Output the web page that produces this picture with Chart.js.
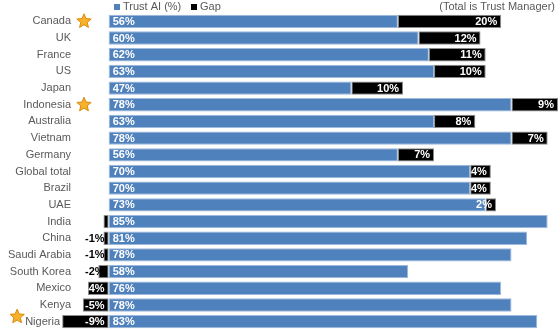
<!DOCTYPE html>
<html>
<head>
<meta charset="utf-8">
<script src="https://cdn.jsdelivr.net/npm/chart.js@4"></script>
<style>
  html, body { margin: 0; padding: 0; background: #fff; }
  #wrap { width: 560px; height: 330px; position: relative; }
</style>
</head>
<body>
<div id="wrap"><canvas id="gapChart"></canvas></div>
<script>
var countries = ['Canada', 'UK', 'France', 'US', 'Japan', 'Indonesia', 'Australia', 'Vietnam', 'Germany',
  'Global total', 'Brazil', 'UAE', 'India', 'China', 'Saudi Arabia', 'South Korea', 'Mexico', 'Kenya', 'Nigeria'];
var trustAI = [56, 60, 62, 63, 47, 78, 63, 78, 56, 70, 70, 73, 85, 81, 78, 58, 76, 78, 83];
var gap = [20, 12, 11, 10, 10, 9, 8, 7, 7, 4, 4, 2, -1, -1, -1, -2, -4, -5, -9];
var gapLabels = ['20%', '12%', '11%', '10%', '10%', '9%', '8%', '7%', '7%', '4%', '4%', '2%', '', '-1%', '-1%', '-2%', '-4%', '-5%', '-9%'];
var starred = ['Canada', 'Indonesia', 'Nigeria'];

var FONT = '"Liberation Sans", Arial, sans-serif';
var GREY = '#595959';

function drawStar(ctx, cx, cy, r) {
  ctx.save();
  ctx.beginPath();
  for (var i = 0; i < 10; i++) {
    var rad = i % 2 === 0 ? r : r * 0.45;
    var a = -Math.PI / 2 + i * Math.PI / 5;
    ctx.lineTo(cx + rad * Math.cos(a), cy + rad * Math.sin(a));
  }
  ctx.closePath();
  ctx.fillStyle = '#F8B12C';
  ctx.fill();
  ctx.strokeStyle = '#D98A06';
  ctx.lineWidth = 1;
  ctx.stroke();
  ctx.restore();
}

// category names, stars, legend and note
var decor = {
  id: 'decor',
  afterDraw: function (chart) {
    var ctx = chart.ctx;
    var y = chart.scales.y;
    ctx.save();
    ctx.font = '11px ' + FONT;
    ctx.fillStyle = GREY;
    ctx.textBaseline = 'middle';
    ctx.textAlign = 'right';
    countries.forEach(function (c, i) {
      var py = y.getPixelForValue(i);
      var right = c === 'Nigeria' ? 60 : 71;
      ctx.fillStyle = GREY;
      ctx.fillText(c, right, py);
      if (starred.indexOf(c) >= 0) {
        if (c === 'Nigeria') {
          var w = ctx.measureText(c).width;
          drawStar(ctx, right - w - 8, py - 5, 7.5);
        } else {
          drawStar(ctx, 84, py, 7.5);
        }
      }
    });

    // legend
    var ly = 7;
    ctx.textAlign = 'left';
    ctx.fillStyle = chart.data.datasets[0].backgroundColor;
    ctx.fillRect(114, ly - 3, 6, 6);
    ctx.fillStyle = GREY;
    ctx.fillText(chart.data.datasets[0].label, 123, ly);
    ctx.fillStyle = '#000';
    ctx.fillRect(191, ly - 3, 6, 6);
    ctx.fillStyle = GREY;
    ctx.fillText(chart.data.datasets[1].label, 200, ly);

    ctx.textAlign = 'right';
    ctx.fillText('(Total is Trust Manager)', 555, ly);
    ctx.restore();
  }
};

// value labels on the bars
var barLabels = {
  id: 'barLabels',
  afterDatasetsDraw: function (chart) {
    var ctx = chart.ctx;
    ctx.save();
    ctx.font = 'bold 11px ' + FONT;
    ctx.textBaseline = 'middle';
    chart.getDatasetMeta(0).data.forEach(function (bar, i) {
      ctx.fillStyle = '#fff';
      ctx.textAlign = 'left';
      ctx.fillText(trustAI[i] + '%', bar.base + 4, bar.y + 0.5);
    });
    chart.getDatasetMeta(1).data.forEach(function (bar, i) {
      var txt = gapLabels[i];
      if (!txt) return;
      ctx.textAlign = 'right';
      if (gap[i] >= 0) {
        ctx.fillStyle = '#fff';
        ctx.fillText(txt, bar.x - 4, bar.y + 0.5);
      } else {
        ctx.fillStyle = gap[i] <= -4 ? '#fff' : '#000';
        ctx.fillText(txt, bar.base - 4, bar.y + 0.5);
      }
    });
    ctx.restore();
  }
};

new Chart(document.getElementById('gapChart'), {
  type: 'bar',
  data: {
    labels: countries,
    datasets: [{
      label: 'Trust AI (%)',
      data: trustAI,
      backgroundColor: '#4F81BD',
      borderColor: '#9DB9DC',
      borderWidth: 1,
      borderSkipped: false
    }, {
      label: 'Gap',
      data: gap,
      backgroundColor: '#000000',
      borderColor: '#8C8C8C',
      borderWidth: 1,
      borderSkipped: false
    }]
  },
  options: {
    indexAxis: 'y',
    responsive: true,
    maintainAspectRatio: false,
    animation: false,
    layout: { padding: { left: 57, right: 2, top: 13, bottom: 0 } },
    datasets: { bar: { categoryPercentage: 1, barPercentage: 0.8 } },
    scales: {
      x: { stacked: true, min: -10, max: 87, display: false },
      y: { stacked: true, display: false }
    },
    plugins: {
      legend: { display: false },
      tooltip: { enabled: false }
    }
  },
  plugins: [decor, barLabels]
});
</script>
</body>
</html>
